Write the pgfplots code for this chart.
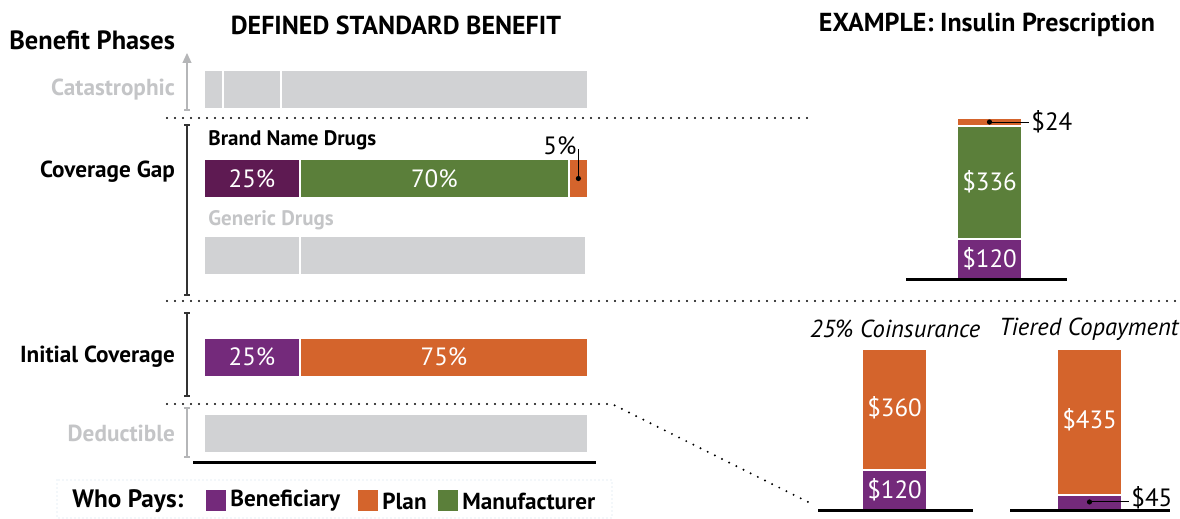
\documentclass[border=0pt]{standalone}
\usepackage{pgfplots}
\pgfplotsset{compat=1.18}
\usepackage{fontspec}
\setmainfont{PT Sans}
\usetikzlibrary{arrows.meta}
\definecolor{purp}{HTML}{742A7B}
\definecolor{dpurp}{HTML}{5E1A52}
\definecolor{grn}{HTML}{5B7F3A}
\definecolor{org}{HTML}{D4642C}
\definecolor{gry}{HTML}{D1D2D4}
\definecolor{gtxt}{HTML}{C4C5C7}
\definecolor{garr}{HTML}{B5B6B8}
\definecolor{lblue}{HTML}{C9DCEB}
\newcommand\fL{\fontsize{11.6}{13}\selectfont}
\newcommand\fB{\fontsize{13.2}{15}\selectfont}
\newcommand\fT{\fontsize{13}{15}\selectfont}
\newcommand\fS{\fontsize{10.5}{12}\selectfont}
\newcommand\fN{\fontsize{12.5}{14}\selectfont}
\newcommand\fI{\fontsize{12.3}{14}\selectfont}
\begin{document}
\begin{tikzpicture}[x=0.5pt,y=-0.5pt]
\useasboundingbox (0,0) rectangle (1180,519);
% ---------- left: defined standard benefit ----------
\begin{axis}[at={(102pt,-259.5pt)}, anchor=south west, scale only axis,
  width=192pt, height=259.5pt, xmin=0, xmax=100, ymin=0, ymax=519,
  hide axis, clip=false, xbar, bar width=19.5pt, bar shift=0pt]
  % gray rows (catastrophic, generic, deductible)
  \addplot[fill=gry, draw=white, line width=1pt] coordinates {(100,429.5) (99.5,263.5) (100,85.5)};
  \addplot[fill=gry, draw=white, line width=1pt] coordinates {(20,429.5) (25,263.5)};
  \addplot[fill=gry, draw=white, line width=1pt] coordinates {(5,429.5)};
  % brand name drugs (cumulative)
  \addplot[fill=org, draw=white, line width=1pt] coordinates {(100,340.5)};
  \addplot[fill=grn, draw=white, line width=1pt] coordinates {(95,340.5)};
  \addplot[fill=dpurp, draw=white, line width=1pt] coordinates {(25,340.5)};
  % initial coverage (cumulative)
  \addplot[fill=org, draw=white, line width=1pt] coordinates {(100,162)};
  \addplot[fill=purp, draw=white, line width=1pt] coordinates {(25,162)};
  \node[white,font=\fN] at (axis cs:12.5,340.5) {25\%};
  \node[white,font=\fN] at (axis cs:60,340.5) {70\%};
  \node[white,font=\fN] at (axis cs:12.5,162) {25\%};
  \node[white,font=\fN] at (axis cs:62.5,162) {75\%};
  \draw[black, line width=0.5pt] (axis cs:97.5,340.5) -- (axis cs:97.5,370);
  \fill[black] (axis cs:97.5,340.5) circle[radius=1.3pt];
  \node[anchor=east, font=\fN, inner sep=1pt] at (axis cs:97.6,373) {5\%};
\end{axis}
% ---------- right top: insulin ----------
\begin{axis}[at={(400pt,-139.5pt)}, anchor=south west, scale only axis,
  width=190pt, height=80.5pt, xmin=800, xmax=1180, ymin=0, ymax=480,
  hide axis, clip=false, ybar, bar width=32.5pt, bar shift=0pt]
  \addplot[fill=org, draw=white, line width=1pt] coordinates {(989.5,480)};
  \addplot[fill=grn, draw=white, line width=1pt] coordinates {(989.5,456)};
  \addplot[fill=purp, draw=white, line width=1pt] coordinates {(989.5,120)};
  \node[white,font=\fN] at (axis cs:989.5,60) {\$120};
  \node[white,font=\fN] at (axis cs:989.5,290) {\$336};
  \draw[black, line width=0.5pt] (axis cs:989.5,468) -- (axis cs:1029,468);
  \fill[black] (axis cs:989.5,468) circle[radius=1.3pt];
  \node[anchor=west, font=\fN, inner sep=1pt] at (axis cs:1029,468) {\$24};
\end{axis}
% ---------- right bottom: coinsurance vs copayment ----------
\begin{axis}[at={(400pt,-255pt)}, anchor=south west, scale only axis,
  width=190pt, height=80.5pt, xmin=800, xmax=1180, ymin=0, ymax=480,
  hide axis, clip=false, ybar, bar width=32.5pt, bar shift=0pt]
  \addplot[fill=org, draw=white, line width=1pt] coordinates {(894.5,480) (1089.5,480)};
  \addplot[fill=purp, draw=white, line width=1pt] coordinates {(894.5,120) (1089.5,45)};
  \node[white,font=\fN] at (axis cs:894.5,60) {\$120};
  \node[white,font=\fN] at (axis cs:894.5,304) {\$360};
  \node[white,font=\fN] at (axis cs:1089.5,268) {\$435};
  \draw[black, line width=0.5pt] (axis cs:1089.5,24) -- (axis cs:1129,24);
  \fill[black] (axis cs:1089.5,24) circle[radius=1.3pt];
  \node[anchor=base west, font=\fN, inner sep=1pt] at (axis cs:1129,10) {\$45};
\end{axis}
% ---------- baselines ----------
\draw[line width=1.5pt] (193,462) -- (596,462);
\draw[line width=1.5pt] (906,280) -- (1067,280);
\draw[line width=1.5pt] (818,510) -- (973,510);
\draw[line width=1.5pt] (1010,510) -- (1170,510);
% ---------- dotted separators ----------
\begin{scope}[line width=1.1pt, line cap=round, dash pattern=on 0pt off 4pt]
\draw (167,118) -- (808,118);
\draw (167,301) -- (1175,301);
\draw (167,404) -- (612,404) -- (808,502);
\end{scope}
% ---------- brackets ----------
\draw[garr, line width=0.6pt, -{Triangle[length=5pt,width=4.5pt]}] (187,110) -- (187,53);
\draw[garr, line width=0.6pt] (184,110) -- (190,110);
\draw[black!80, line width=0.6pt] (184,125) -- (190,125) (187,125) -- (187,295) (184,295) -- (190,295);
\draw[black!80, line width=0.6pt] (184,313) -- (190,313) (187,313) -- (187,396) (184,396) -- (190,396);
\draw[garr, line width=0.6pt] (184,408) -- (190,408) (187,408) -- (187,457) (184,457) -- (190,457);
% ---------- texts ----------
\node[anchor=east, font=\fB\bfseries] at (182,40) {Benefit Phases};
\node[font=\fT\bfseries] at (396,25) {DEFINED STANDARD BENEFIT};
\node[font=\fT\bfseries] at (987,25) {EXAMPLE: Insulin Prescription};
\node[anchor=east, font=\fL\bfseries, gtxt] at (182,90) {Catastrophic};
\node[anchor=east, font=\fL\bfseries] at (182,172) {Coverage Gap};
\node[anchor=east, font=\fL\bfseries] at (182,357) {Initial Coverage};
\node[anchor=east, font=\fL\bfseries, gtxt] at (182,433) {Deductible};
\node[anchor=west, font=\fS\bfseries, inner sep=1pt] at (206,140) {Brand Name Drugs};
\node[anchor=west, font=\fS\bfseries, gtxt, inner sep=1pt] at (206,220) {Generic Drugs};
\node[font=\fI\itshape, inner sep=0pt] at (895,329) {25\% Coinsurance};
\node[font=\fI\itshape, inner sep=0pt] at (1089,329) {Tiered Copayment};
% ---------- legend ----------
\draw[lblue, line width=0.6pt, dash pattern=on 0pt off 2pt, line cap=round] (57,480) rectangle (612,518);
\node[anchor=west, font=\fontsize{12.6}{14}\selectfont\bfseries, inner sep=0pt] at (72,501) {Who Pays:};
\fill[purp] (206,490) rectangle (226,511);
\node[anchor=west, font=\fL\bfseries, inner sep=0pt] at (230,501) {Beneficiary};
\fill[org] (358,490) rectangle (378,511);
\node[anchor=west, font=\fL\bfseries, inner sep=0pt] at (382,501) {Plan};
\fill[grn] (438,490) rectangle (458,511);
\node[anchor=west, font=\fL\bfseries, inner sep=0pt] at (462,501) {Manufacturer};
\end{tikzpicture}
\end{document}
